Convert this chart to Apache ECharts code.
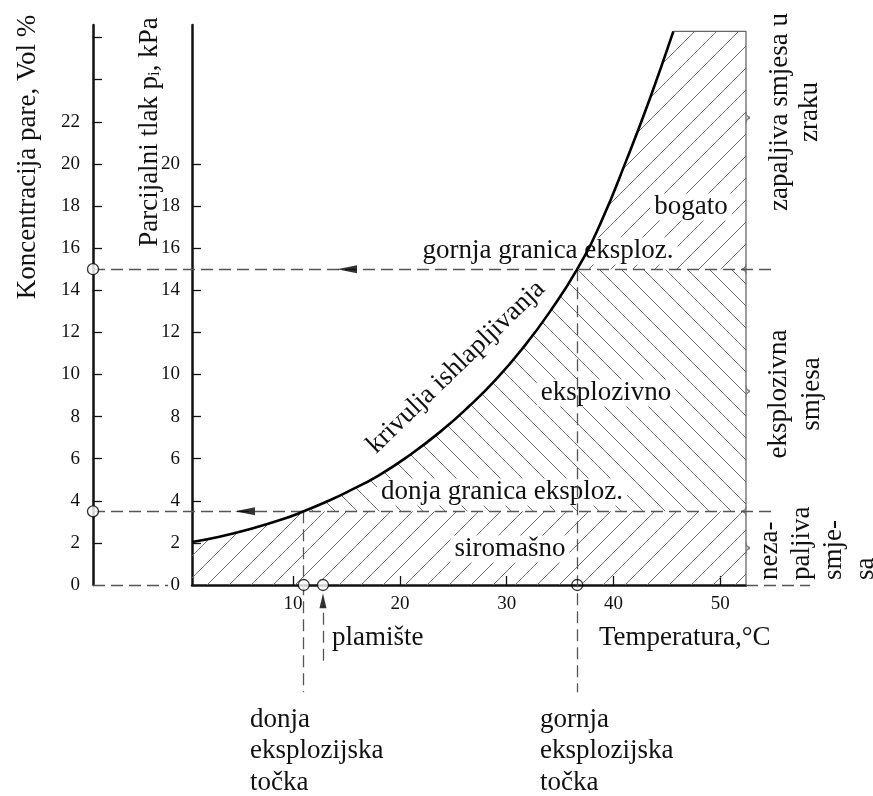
<!DOCTYPE html>
<html>
<head>
<meta charset="utf-8">
<script src="https://cdn.jsdelivr.net/npm/echarts@6/dist/echarts.min.js"></script>
<style>
html, body { margin: 0; background: #fff; }
#chart { width: 873px; height: 796px; }
</style>
</head>
<body>
<div id="chart"></div>
<script>
// krivulja ishlapljivanja: temperatura (°C) -> tlak (kPa)
var curveT = [0.54, 3, 6, 9, 11, 13.5, 15, 18, 21, 24, 26.5, 29, 31.5, 34, 36.6, 38.8, 41.3, 43.4, 45.6];
var curveP = [2.04, 2.28, 2.66, 3.12, 3.5, 4.04, 4.4, 5.2, 6.2, 7.37, 8.5, 9.77, 11.25, 12.95, 15.0, 17.2, 20.3, 23.1, 26.3];

// granice eksplozivnosti (kPa ~ Vol %) i vrh šrafiranog polja
var lowerLimit = 3.5;
var upperLimit = 15;
var topLimit = 26.3;

// karakteristične točke na osi temperature
var lowerPointT = 11;
var upperPointT = 36.6;
var flashPointT = 12.8;

// osi
var tMin = 0.54, tMax = 52.4;
var pMin = 0, pMax = 26.6;
var xTicks = [10, 20, 30, 40, 50];
var kpaLabels = [0, 2, 4, 6, 8, 10, 12, 14, 16, 18, 20];
var kpaTicks = [2, 4, 6, 8, 10, 12, 14, 16, 18, 20];
var volLabels = [0, 2, 4, 6, 8, 10, 12, 14, 16, 18, 20, 22];
var volTicks = [2, 4, 6, 8, 10, 12, 14, 16, 18, 20, 22, 24, 26];

// where the guide lines end outside the plot (same units)
var guideRightT = 55.0;
var zeroLeftEndT = -1.7;
var zeroRightT = 58.4;
var dropP = -5.1;
var flashArrowFrom = -3.6;
var arrowLowT = 5.5, arrowUpT = 15.05;

// ---- layout (pixels) ----
var W = 873, H = 796;
var plot = { left: 192, top: 25, right: 746, bottom: 585 };
var volOffset = 99;
var pxT = (plot.right - plot.left) / (tMax - tMin);
var pxP = (plot.bottom - plot.top) / (pMax - pMin);
// overlay grid = whole canvas, same scale as the plot
var ovX = [tMin - plot.left / pxT, tMax + (W - plot.right) / pxT];
var ovY = [pMin - (H - plot.bottom) / pxP, pMax + plot.top / pxP];
var volAxisT = tMin - volOffset / pxT;

var serif = '"Liberation Serif", "Times New Roman", serif';

function hatch(dir) {
    var s = 22;
    var c = document.createElement('canvas');
    c.width = s; c.height = s;
    var g = c.getContext('2d');
    g.strokeStyle = '#707070';
    g.lineWidth = 1;
    for (var k = -s; k <= s; k += s) {
        g.beginPath();
        if (dir === '/') { g.moveTo(k, s); g.lineTo(k + s, 0); }
        else { g.moveTo(k, 0); g.lineTo(k + s, s); }
        g.stroke();
    }
    return { image: c, repeat: 'repeat' };
}

// bands under the curve
function band(lo, hi) {
    var d = [];
    for (var i = 0; i < curveT.length; i++) {
        if (curveP[i] >= lo && curveP[i] <= hi) d.push([curveT[i], curveP[i]]);
    }
    d.push([tMax, hi]);
    return d;
}
var curveData = curveT.map(function (t, i) { return [t, curveP[i]]; });

var dash = [12, 6];
var guideStyle = { color: '#555', width: 1.3, type: dash };

function seg(a, b) {
    return [{ coord: a }, { coord: b }];
}

var myChart = echarts.init(document.getElementById('chart'), null, { renderer: 'canvas' });

var axisText = { color: '#111', fontSize: 19, fontFamily: serif };

var option = {
    animation: false,
    backgroundColor: '#fff',
    grid: [
        { left: plot.left, top: plot.top, width: plot.right - plot.left, height: plot.bottom - plot.top },
        { left: 0, top: 0, width: W, height: H }
    ],
    xAxis: [
        {
            gridIndex: 0, type: 'value', min: tMin, max: tMax,
            axisLine: { lineStyle: { color: '#111', width: 2.5 } },
            axisTick: { inside: true, length: 9, lineStyle: { color: '#111', width: 1.3 }, customValues: xTicks },
            axisLabel: Object.assign({ margin: 10, customValues: xTicks }, axisText),
            splitLine: { show: false }
        },
        { gridIndex: 1, type: 'value', min: ovX[0], max: ovX[1], show: false }
    ],
    yAxis: [
        {
            gridIndex: 0, type: 'value', min: pMin, max: pMax, position: 'left',
            axisLine: { show: true, lineStyle: { color: '#111', width: 2.5 } },
            axisTick: { show: true, inside: true, length: 9, lineStyle: { color: '#111', width: 1.3 }, customValues: kpaTicks },
            axisLabel: Object.assign({ margin: 12, customValues: kpaLabels }, axisText),
            splitLine: { show: false }
        },
        {
            gridIndex: 0, type: 'value', min: pMin, max: pMax, position: 'left', offset: volOffset,
            axisLine: { show: true, lineStyle: { color: '#111', width: 2.5 } },
            axisTick: { show: true, inside: true, length: 9, lineStyle: { color: '#111', width: 1.3 }, customValues: volTicks },
            axisLabel: Object.assign({ margin: 13, customValues: volLabels }, axisText),
            splitLine: { show: false }
        },
        { gridIndex: 1, type: 'value', min: ovY[0], max: ovY[1], show: false }
    ],
    series: [
        {
            name: 'siromasno', type: 'line', xAxisIndex: 0, yAxisIndex: 0, z: 1, silent: true,
            data: band(0, lowerLimit), symbol: 'none', smooth: 0.5, lineStyle: { width: 0 },
            areaStyle: { color: hatch('/'), opacity: 1, origin: 0 }
        },
        {
            name: 'eksplozivno', type: 'line', xAxisIndex: 0, yAxisIndex: 0, z: 1, silent: true,
            data: band(lowerLimit, upperLimit), symbol: 'none', lineStyle: { width: 0 },
            areaStyle: { color: hatch('\\'), opacity: 1, origin: lowerLimit }
        },
        {
            name: 'bogato', type: 'line', xAxisIndex: 0, yAxisIndex: 0, z: 1, silent: true,
            data: band(upperLimit, topLimit), symbol: 'none', lineStyle: { width: 0 },
            areaStyle: { color: hatch('/'), opacity: 1, origin: upperLimit }
        },
        {
            name: 'rub', type: 'line', xAxisIndex: 0, yAxisIndex: 0, z: 2, silent: true,
            data: [[curveT[curveT.length - 1], topLimit], [tMax, topLimit], [tMax, 0]],
            symbol: 'none', lineStyle: { color: '#666', width: 1.3 }
        },
        {
            name: 'zagrade', type: 'scatter', xAxisIndex: 0, yAxisIndex: 0, z: 2, silent: true,
            data: [[tMax, 22.2], [tMax, 9.2], [tMax, 1.76]],
            symbol: 'path://M0,0 Q0,8 5,10 Q0,12 0,20', symbolSize: [4, 12], symbolOffset: [2, 0],
            itemStyle: { color: 'transparent', borderColor: '#666', borderWidth: 1.2 }
        },
        {
            name: 'zagrade2', type: 'scatter', xAxisIndex: 0, yAxisIndex: 0, z: 2, silent: true,
            data: [[tMax, upperLimit], [tMax, lowerLimit]],
            symbol: 'path://M5,0 Q5,8 0,10 Q5,12 5,20', symbolSize: [4, 10], symbolOffset: [-2, 0],
            itemStyle: { color: 'transparent', borderColor: '#666', borderWidth: 1.2 }
        },
        {
            name: 'krivulja', type: 'line', xAxisIndex: 0, yAxisIndex: 0, z: 6, silent: true,
            data: curveData, symbol: 'none', smooth: 0.5,
            lineStyle: { color: '#000', width: 2.6 }
        },
        {
            name: 'vodilice', type: 'line', xAxisIndex: 1, yAxisIndex: 2, z: 5, silent: true,
            data: [], symbol: 'none',
            markLine: {
                silent: true, symbol: ['none', 'none'], label: { show: false },
                lineStyle: guideStyle,
                data: [
                    seg([volAxisT, upperLimit], [guideRightT, upperLimit]),
                    seg([volAxisT, lowerLimit], [guideRightT, lowerLimit]),
                    seg([volAxisT, 0], [zeroLeftEndT, 0]),
                    seg([tMax, 0], [zeroRightT, 0]),
                    seg([lowerPointT, lowerLimit], [lowerPointT, dropP]),
                    seg([upperPointT, upperLimit], [upperPointT, dropP]),
                    seg([flashPointT, flashArrowFrom], [flashPointT, -1.0])
                ]
            }
        },
        {
            name: 'strelice', type: 'scatter', xAxisIndex: 1, yAxisIndex: 2, z: 6, silent: true,
            symbol: 'triangle',
            data: [
                { value: [arrowUpT, upperLimit], symbolRotate: 90, symbolSize: [8, 20] },
                { value: [arrowLowT, lowerLimit], symbolRotate: 90, symbolSize: [8, 20] },
                { value: [flashPointT, -0.75], symbolRotate: 0, symbolSize: [7, 15] }
            ],
            itemStyle: { color: '#000' }
        },
        {
            name: 'tocke', type: 'scatter', xAxisIndex: 1, yAxisIndex: 2, z: 7, silent: true,
            symbol: 'circle', symbolSize: 11,
            data: [
                [volAxisT, upperLimit], [volAxisT, lowerLimit],
                [lowerPointT, 0], [flashPointT, 0]
            ],
            itemStyle: { color: '#fff', borderColor: '#000', borderWidth: 1.3 }
        },
        {
            name: 'tocka2', type: 'scatter', xAxisIndex: 1, yAxisIndex: 2, z: 7, silent: true,
            symbol: 'circle', symbolSize: 11,
            data: [[upperPointT, 0]],
            itemStyle: { color: 'transparent', borderColor: '#000', borderWidth: 1.3 }
        }
    ],
    graphic: []
};

function txt(text, x, y, extra) {
    var st = {
        text: text, x: 0, y: 0, fill: '#111',
        font: '27px ' + serif, align: 'center', verticalAlign: 'middle'
    };
    var el = { type: 'text', x: x, y: y, z: 4, silent: true, style: st };
    if (extra) {
        for (var k in extra.style || {}) st[k] = extra.style[k];
        if (extra.rotation != null) el.rotation = extra.rotation;
    }
    return el;
}
var bg = { backgroundColor: '#fff', padding: [0, 4] };
var up = Math.PI / 2;

option.graphic = [
    txt('Koncentracija pare, Vol %', 28, 157, { rotation: up }),
    txt('Parcijalni tlak p{s|i}, kPa', 150, 132, {
        rotation: up,
        style: { rich: { s: { fontSize: 17, fontFamily: serif, padding: [10, 0, 0, 0] } } }
    }),
    txt('krivulja ishlapljivanja', 456, 367, { rotation: 44 * Math.PI / 180 }),
    txt('gornja granica eksploz.', 548, 251, { style: bg }),
    txt('bogato', 691, 207, { style: bg }),
    txt('eksplozivno', 606, 393, { style: bg }),
    txt('donja granica eksploz.', 502, 492, { style: bg }),
    txt('siromašno', 510, 549, { style: bg }),
    txt('plamište', 332, 638, { style: { align: 'left' } }),
    txt('Temperatura,°C', 599, 638, { style: { align: 'left' } }),
    txt('donja\neksplozijska\ntočka', 250, 704, { style: { align: 'left', verticalAlign: 'top', lineHeight: 31.5 } }),
    txt('gornja\neksplozijska\ntočka', 540, 704, { style: { align: 'left', verticalAlign: 'top', lineHeight: 31.5 } }),
    txt('zapaljiva smjesa u\nzraku', 795, 112, { rotation: up, style: { lineHeight: 30 } }),
    txt('eksplozivna\nsmjesa', 795, 394, { rotation: up, style: { lineHeight: 33 } }),
    txt('neza-\npaljiva\nsmje-\nsa', 818, 580, { rotation: up, style: { align: 'left', lineHeight: 32 } })
];

myChart.setOption(option);
window.addEventListener('resize', function () {
    myChart.resize();
});
</script>
</body>
</html>
